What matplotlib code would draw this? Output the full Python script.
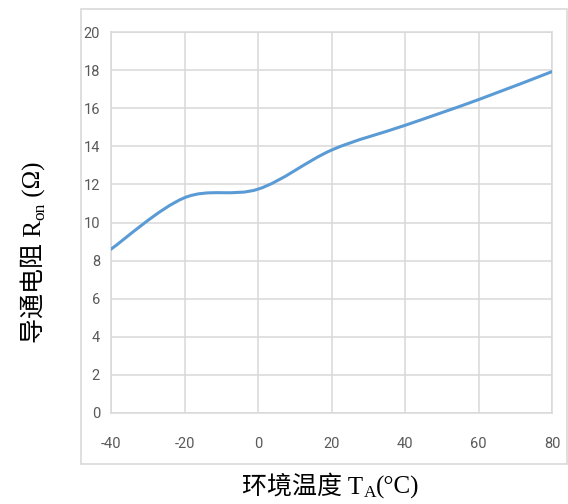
import matplotlib
matplotlib.use("Agg")
import matplotlib.pyplot as plt
from matplotlib.path import Path
from matplotlib.patches import PathPatch, Rectangle
from matplotlib import font_manager

# data
temps = [-40, -20, 0, 20, 40, 60, 80]
r_on = [8.6, 11.3, 11.75, 13.8, 15.1, 16.45, 17.92]

x_ticks = [-40, -20, 0, 20, 40, 60, 80]
y_ticks = [0, 2, 4, 6, 8, 10, 12, 14, 16, 18, 20]

# label pieces: (text, fontsize, shift below baseline in px)
x_label = [("环境温度 T", 18, 0), ("A", 12.5, 3), ("(°C)", 18, 0)]
y_label = [("导通电阻 R", 18, 0), ("on", 12.5, 3), (" (Ω)", 18, 0)]

installed = {f.name for f in font_manager.fontManager.ttflist}
tick_font = "Liberation Sans Narrow" if "Liberation Sans Narrow" in installed else "Roboto"
label_family = ["Liberation Serif", "Noto Sans CJK SC", "DejaVu Sans"]

plt.rcParams["axes.unicode_minus"] = False

W, H = 568, 504


def smooth_path(xs, ys):
    # excel-like smoothed line: cubic bezier segments through the points
    verts = [(xs[0], ys[0])]
    codes = [Path.MOVETO]
    n = len(xs)
    for i in range(n - 1):
        x0, y0 = xs[max(i - 1, 0)], ys[max(i - 1, 0)]
        x1, y1 = xs[i], ys[i]
        x2, y2 = xs[i + 1], ys[i + 1]
        x3, y3 = xs[min(i + 2, n - 1)], ys[min(i + 2, n - 1)]
        c1 = (x1 + (x2 - x0) / 6, y1 + (y2 - y0) / 6)
        c2 = (x2 - (x3 - x1) / 6, y2 - (y3 - y1) / 6)
        verts += [c1, c2, (x2, y2)]
        codes += [Path.CURVE4] * 3
    return Path(verts, codes)


def place_label(fig, cx, cy, pieces, vertical=False):
    # cx, cy: centre of the label in px from top-left
    renderer = fig.canvas.get_renderer()
    rot = 90 if vertical else 0
    texts, widths = [], []
    for txt, size, _ in pieces:
        t = fig.text(0, 0, txt, fontsize=size, family=label_family,
                     fontweight="light", rotation=rot, rotation_mode="anchor",
                     ha="left", va="baseline")
        bb = t.get_window_extent(renderer)
        widths.append(bb.height if vertical else bb.width)
        texts.append(t)
    total = sum(widths)
    pos = -total / 2
    for t, w, (_, _, drop) in zip(texts, widths, pieces):
        if vertical:
            px = cx + 9 + drop
            py = cy - pos
        else:
            px = cx + pos
            py = cy + 9 + drop
        t.set_position((px / W, 1 - py / H))
        pos += w


fig = plt.figure(figsize=(W / 100, H / 100), dpi=100)

# chart area frame
fig.patches.append(Rectangle((81 / W, 40 / H), 486 / W, 455 / H,
                             transform=fig.transFigure, fill=False,
                             edgecolor="#d9d9d9", linewidth=1.2))

ax = fig.add_axes([111 / W, 91 / H, 441 / W, 381 / H])
ax.add_patch(PathPatch(smooth_path(temps, r_on), fill=False,
                       edgecolor="#5b9bd5", linewidth=2.2,
                       capstyle="round", zorder=3))

ax.set_xlim(-40, 80)
ax.set_ylim(0, 20)
ax.set_xticks(x_ticks)
ax.set_yticks(y_ticks)
ax.grid(True, color="#d9d9d9", linewidth=1.1)
ax.set_axisbelow(True)
for s in ax.spines.values():
    s.set_color("#d9d9d9")
    s.set_linewidth(1.1)
ax.tick_params(length=0, colors="#595959", labelsize=10.5)
ax.tick_params(axis="x", pad=17)
ax.tick_params(axis="y", pad=8)
for lab in ax.get_xticklabels() + ax.get_yticklabels():
    lab.set_fontfamily(tick_font)

place_label(fig, 331, 485, x_label)
place_label(fig, 32, 252, y_label, vertical=True)

fig.savefig("out.png", dpi=100)
